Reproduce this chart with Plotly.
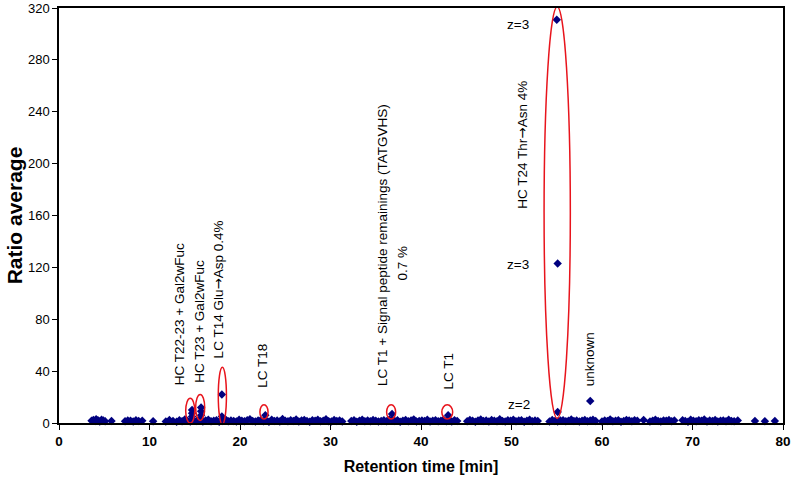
import plotly.graph_objects as go

# Baseline (unmodified peptides) retention times [min] and ratio averages
bg_x = [3.6, 3.8, 4.0, 4.1, 4.3, 4.5, 4.7, 4.9, 5.1, 5.8,
        7.3, 7.6, 7.9, 8.2, 8.5, 8.8, 9.2, 10.4, 11.8, 12.2,
        12.6, 13.0, 13.3, 13.6, 13.9, 14.2, 14.5, 14.9, 15.2, 15.5,
        15.9, 16.2, 16.5, 16.8, 17.1, 17.4, 17.7, 18.1, 18.4, 18.7,
        19.0, 19.3, 19.6, 19.9, 20.2, 20.5, 20.8, 21.1, 21.4, 21.7,
        22.0, 22.3, 22.6, 22.9, 23.2, 23.5, 23.8, 24.1, 24.4, 24.7,
        25.0, 25.3, 25.6, 25.9, 26.2, 26.5, 26.8, 27.1, 27.4, 27.7,
        28.0, 28.3, 28.6, 28.9, 29.2, 29.5, 29.8, 30.1, 30.4, 30.7,
        31.0, 31.3, 32.3, 32.6, 32.9, 33.2, 33.5, 33.8, 34.1, 34.4,
        34.7, 35.0, 35.3, 35.6, 35.9, 36.2, 36.5, 36.8, 37.1, 37.4,
        37.7, 38.0, 38.3, 38.6, 38.9, 39.2, 39.5, 39.8, 40.1, 40.4,
        40.7, 41.0, 41.3, 41.6, 41.9, 42.2, 42.5, 42.8, 43.1, 43.4,
        43.7, 44.0, 45.1, 45.4, 45.7, 46.0, 46.3, 46.6, 46.9, 47.2,
        47.5, 47.8, 48.1, 48.4, 48.7, 49.0, 49.3, 49.6, 49.9, 50.2,
        50.5, 50.8, 51.1, 51.4, 51.7, 52.0, 52.3, 52.6, 52.9, 54.2,
        54.5, 54.8, 55.1, 55.4, 55.7, 56.0, 56.3, 56.6, 56.9, 57.2,
        57.5, 57.8, 58.1, 58.4, 58.7, 59.0, 59.3, 60.0, 60.3, 60.6,
        60.9, 61.2, 61.5, 61.8, 62.1, 62.4, 62.7, 63.0, 63.3, 63.6,
        63.9, 64.6, 65.3, 65.6, 65.9, 66.2, 66.5, 66.8, 67.1, 67.4,
        67.7, 68.0, 68.9, 69.2, 69.5, 69.8, 70.1, 70.4, 70.7, 71.0,
        71.3, 71.6, 71.9, 72.2, 72.5, 72.8, 73.1, 73.4, 73.7, 74.0,
        74.3, 74.6, 75.0, 76.9, 78.0, 79.1]
bg_y = [1.8, 2.4, 1.5, 2.9, 2.1, 1.2, 2.6, 1.9, 1.4, 1.6,
        1.3, 2.0, 1.7, 1.1, 2.2, 1.5, 1.8, 1.4, 1.2, 2.3,
        1.6, 0.9, 2.1, 1.4, 2.7, 1.8, 1.1, 2.0, 1.5, 2.4,
        1.2, 1.9, 2.6, 1.3, 1.7, 2.2, 1.0, 1.6, 2.8, 1.4,
        2.0, 1.5, 1.1, 2.5, 1.8, 1.3, 2.1, 2.9, 1.6, 1.2,
        1.9, 2.3, 1.4, 1.7, 1.0, 2.6, 1.5, 2.0, 1.2, 3.1,
        1.8, 1.3, 2.2, 1.6, 2.7, 1.1, 1.9, 2.4, 1.5, 1.0,
        2.1, 1.7, 2.5, 1.3, 1.8, 2.9, 1.4, 1.1, 2.3, 1.6,
        1.9, 1.2, 1.5, 2.2, 1.0, 1.7, 2.6, 1.4, 2.0, 1.3,
        2.4, 1.8, 1.1, 1.6, 2.1, 1.3, 2.7, 1.9, 1.5, 2.2,
        1.0, 1.7, 2.3, 1.4, 1.9, 2.8, 1.2, 1.6, 2.0, 1.5,
        2.5, 1.1, 1.8, 2.2, 1.3, 1.7, 2.6, 1.4, 1.9, 1.2,
        2.1, 1.6, 1.3, 2.4, 1.8, 1.0, 2.0, 2.7, 1.5, 1.9,
        1.2, 2.3, 1.7, 1.4, 2.9, 1.6, 1.1, 2.1, 1.8, 2.5,
        1.3, 1.9, 2.2, 1.0, 1.7, 2.6, 1.4, 2.0, 1.5, 1.2,
        2.4, 1.6, 1.1, 1.9, 2.2, 1.3, 1.8, 2.7, 1.5, 2.0,
        1.2, 1.7, 2.3, 1.4, 1.9, 2.5, 1.6, 1.1, 2.0, 1.5,
        2.8, 1.3, 1.8, 2.2, 1.0, 1.6, 2.4, 1.9, 1.4, 2.1,
        1.7, 2.3, 1.2, 1.8, 2.6, 1.5, 1.1, 2.0, 1.7, 2.4,
        1.3, 1.9, 2.2, 1.6, 1.0, 2.5, 1.8, 1.4, 2.1, 1.7,
        2.7, 1.2, 1.9, 1.5, 2.3, 1.1, 1.8, 2.0, 1.4, 2.6,
        1.6, 1.3, 2.0, 1.5, 1.4, 1.6]

# Modified peptides (outliers)
peak_x = [14.7, 14.7, 14.7, 15.7, 15.7, 15.7, 18.0, 18.0, 22.8, 36.8, 43.0, 55.0, 55.1, 55.1, 58.7]
peak_y = [10.0, 7.5, 5.0, 12.0, 9.0, 6.0, 22.0, 5.0, 6.0, 7.0, 6.0, 311.0, 123.0, 8.5, 17.0]

# Highlight ellipses: (x0, x1, y0, y1)
ellipses = [(14.0, 15.0, 0.0, 19.0),
            (15.1, 16.1, 2.0, 22.0),
            (17.6, 18.5, -1.0, 43.0),
            (22.2, 23.1, 3.0, 14.0),
            (36.2, 37.2, 3.0, 14.0),
            (42.3, 43.5, 3.0, 14.0),
            (53.6, 56.5, 3.5, 321.0)]

ARROW = '<span style="font-family:DejaVu Sans">\u2192</span>'

# Labels: (text, x, y, yanchor)
rot_labels = [("HC T22-23 + Gal2wFuc", 13.4, 27.8, "bottom"),
              ("HC T23 + Gal2wFuc", 15.5, 29.3, "bottom"),
              ("LC T14 Glu" + ARROW + "Asp 0.4%", 17.6, 48.5, "bottom"),
              ("LC T18", 22.4, 25.4, "bottom"),
              ("LC T1 + Signal peptide remainings (TATGVHS)", 35.8, 27.0, "bottom"),
              ("0.7 %", 37.9, 123.0, "middle"),
              ("LC T1", 43.0, 24.0, "bottom"),
              ("HC T24 Thr" + ARROW + "Asn 4%", 51.2, 164.0, "bottom"),
              ("unknown", 58.7, 27.0, "bottom")]
charge_labels = [("z=3", 50.7, 306.9), ("z=3", 50.7, 122.6), ("z=2", 50.8, 14.6)]

x_ticks = [0, 10, 20, 30, 40, 50, 60, 70, 80]
y_ticks = [0, 40, 80, 120, 160, 200, 240, 280, 320]

FONT = "Liberation Sans, Arial, sans-serif"
NAVY = "#00007f"

fig = go.Figure()
fig.add_trace(go.Scatter(x=bg_x, y=bg_y, mode="markers",
                         marker=dict(symbol="diamond", size=6.5, color=NAVY, line=dict(width=0)),
                         cliponaxis=False, showlegend=False))
fig.add_trace(go.Scatter(x=peak_x, y=peak_y, mode="markers",
                         marker=dict(symbol="diamond", size=6.5, color=NAVY, line=dict(width=0)),
                         cliponaxis=False, showlegend=False))

for (x0, x1, y0, y1) in ellipses:
    fig.add_shape(type="circle", xref="x", yref="y", x0=x0, x1=x1, y0=y0, y1=y1,
                  line=dict(color="#e8141c", width=1.5), layer="above")

for (t, x, y, ya) in rot_labels:
    fig.add_annotation(text=t, x=x, y=y, xref="x", yref="y", textangle=-90,
                       xanchor="center", yanchor=ya, showarrow=False,
                       font=dict(family=FONT, size=13.5, color="black"))
for (t, x, y) in charge_labels:
    fig.add_annotation(text=t, x=x, y=y, xref="x", yref="y",
                       xanchor="center", yanchor="middle", showarrow=False,
                       font=dict(family=FONT, size=13.5, color="black"))

fig.update_layout(
    width=795, height=480,
    margin=dict(l=59, r=12, t=8, b=57),
    paper_bgcolor="white", plot_bgcolor="white",
    font=dict(family=FONT, color="black"),
    xaxis=dict(range=[0, 80], tickvals=x_ticks, showgrid=False, zeroline=False,
               automargin=False,
               showline=True, linecolor="black", linewidth=1.5, mirror=True,
               ticks="outside", ticklen=5, tickcolor="black",
               tickfont=dict(family=FONT, size=13.5, weight="bold"),
               title=dict(text="<b>Retention time [min]</b>", standoff=13,
                          font=dict(family=FONT, size=16))),
    yaxis=dict(range=[0, 320], tickvals=y_ticks, showgrid=False, zeroline=False,
               automargin=False,
               showline=True, linecolor="black", linewidth=1.5, mirror=True,
               ticks="outside", ticklen=5, tickcolor="black",
               tickfont=dict(family=FONT, size=13),
               title=dict(text="<b>Ratio average</b>", standoff=0,
                          font=dict(family=FONT, size=21))),
)

fig.write_html("out.html", config={"displayModeBar": False},
               post_script="document.body.style.margin='0';document.body.style.overflow='hidden';")
